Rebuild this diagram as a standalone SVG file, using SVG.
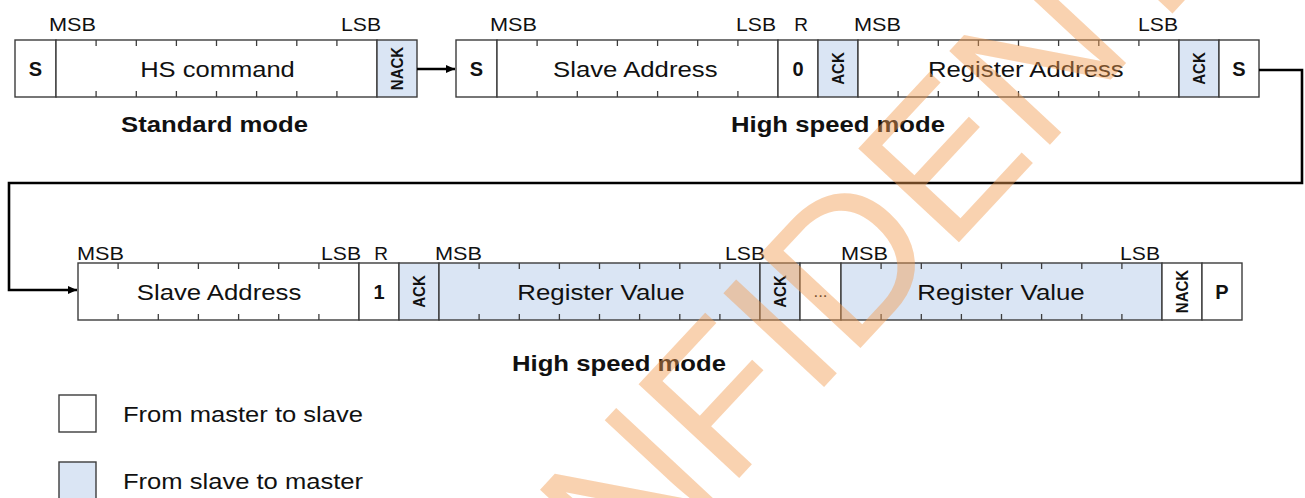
<svg xmlns="http://www.w3.org/2000/svg" width="1305" height="498" viewBox="0 0 1305 498">
<defs>
<style>
.cell{stroke:#3c3c3c;stroke-width:1.4;fill:#ffffff}
.blue{fill:#dae5f4}
.tick{stroke:#3c3c3c;stroke-width:1.3}
text{font-family:"Liberation Sans",Arial,sans-serif;fill:#111111}
.lbl{font-size:19px}
.r{font-size:19px;text-anchor:middle}
.fld{font-size:22px;text-anchor:middle}
.bit{font-size:20px;font-weight:bold;text-anchor:middle}
.vk{font-size:15px;font-weight:bold;text-anchor:middle}
.mode{font-size:22px;font-weight:bold;text-anchor:middle}
.leg{font-size:22px}
.conn{fill:none;stroke:#000000;stroke-width:2.6}
.wm{font-family:"Liberation Sans",sans-serif;font-size:200px;fill:#f29b50;fill-opacity:0.45}
</style>
<marker id="ah" markerUnits="userSpaceOnUse" markerWidth="10" markerHeight="9" refX="9" refY="4" orient="auto">
<path d="M0,0 L9,4 L0,8 z" fill="#000000"/>
</marker>
</defs>
<rect width="1305" height="498" fill="#ffffff"/>

<!-- Row 1 -->
<g id="r1-s1"><rect class="cell" x="15" y="40" width="41" height="57"/><text class="bit" x="35.5" y="76">S</text></g>
<g id="r1-hs">
<rect class="cell" x="56" y="40" width="321" height="57"/>
<path class="tick" d="M96.1,40v6M136.3,40v6M176.4,40v6M216.5,40v6M256.6,40v6M296.8,40v6M336.9,40v6M96.1,97v-6M136.3,97v-6M176.4,97v-6M216.5,97v-6M256.6,97v-6M296.8,97v-6M336.9,97v-6"/>
<text class="fld" x="217.5" y="76.5" textLength="154.6" lengthAdjust="spacingAndGlyphs">HS command</text>
<text class="lbl" x="49" y="31" textLength="47" lengthAdjust="spacingAndGlyphs">MSB</text>
<text class="lbl" x="341" y="31" textLength="40" lengthAdjust="spacingAndGlyphs">LSB</text>
</g>
<g id="r1-nack"><rect class="cell blue" x="377" y="40" width="40" height="57"/><text class="vk" transform="translate(397,68.5) scale(1.16,1) rotate(-90)" y="5.4">NACK</text></g>
<g id="r1-s2"><rect class="cell" x="456" y="40" width="41" height="57"/><text class="bit" x="476.5" y="76">S</text></g>
<g id="r1-sa">
<rect class="cell" x="497" y="40" width="281" height="57"/>
<path class="tick" d="M537.1,40v6M577.3,40v6M617.4,40v6M657.6,40v6M697.7,40v6M737.9,40v6M537.1,97v-6M577.3,97v-6M617.4,97v-6M657.6,97v-6M697.7,97v-6M737.9,97v-6"/>
<text class="fld" x="635.3" y="76.5" textLength="164.5" lengthAdjust="spacingAndGlyphs">Slave Address</text>
<text class="lbl" x="490" y="31" textLength="47" lengthAdjust="spacingAndGlyphs">MSB</text>
<text class="lbl" x="736" y="31" textLength="40" lengthAdjust="spacingAndGlyphs">LSB</text>
</g>
<g id="r1-rw"><rect class="cell" x="778" y="40" width="40" height="57"/><text class="bit" x="798" y="76">0</text><text class="r" x="801" y="31">R</text></g>
<g id="r1-ack1"><rect class="cell blue" x="818" y="40" width="40" height="57"/><text class="vk" transform="translate(838,68.5) scale(1.16,1) rotate(-90)" y="5.4">ACK</text></g>
<g id="r1-ra">
<rect class="cell" x="858" y="40" width="321" height="57"/>
<path class="tick" d="M898.1,40v6M938.3,40v6M978.4,40v6M1018.5,40v6M1058.6,40v6M1098.8,40v6M1138.9,40v6M898.1,97v-6M938.3,97v-6M978.4,97v-6M1018.5,97v-6M1058.6,97v-6M1098.8,97v-6M1138.9,97v-6"/>
<text class="fld" x="1025.8" y="76.5" textLength="195.7" lengthAdjust="spacingAndGlyphs">Register Address</text>
<text class="lbl" x="854" y="31" textLength="47" lengthAdjust="spacingAndGlyphs">MSB</text>
<text class="lbl" x="1138" y="31" textLength="40" lengthAdjust="spacingAndGlyphs">LSB</text>
</g>
<g id="r1-ack2"><rect class="cell blue" x="1179" y="40" width="40" height="57"/><text class="vk" transform="translate(1199,68.5) scale(1.16,1) rotate(-90)" y="5.4">ACK</text></g>
<g id="r1-s3"><rect class="cell" x="1219" y="40" width="40" height="57"/><text class="bit" x="1239" y="76">S</text></g>

<g id="lbl-std"><text class="mode" x="214.5" y="132" textLength="187" lengthAdjust="spacingAndGlyphs">Standard mode</text></g>
<g id="lbl-hs1"><text class="mode" x="838" y="132" textLength="214" lengthAdjust="spacingAndGlyphs">High speed mode</text></g>

<!-- Row 2 -->
<g id="r2-sa">
<rect class="cell" x="78" y="263" width="281" height="57"/>
<path class="tick" d="M118.1,263v6M158.3,263v6M198.4,263v6M238.6,263v6M278.7,263v6M318.9,263v6M118.1,320v-6M158.3,320v-6M198.4,320v-6M238.6,320v-6M278.7,320v-6M318.9,320v-6"/>
<text class="fld" x="219" y="299.5" textLength="164.5" lengthAdjust="spacingAndGlyphs">Slave Address</text>
<text class="lbl" x="77" y="259.5" textLength="47" lengthAdjust="spacingAndGlyphs">MSB</text>
<text class="lbl" x="321" y="259.5" textLength="40" lengthAdjust="spacingAndGlyphs">LSB</text>
</g>
<g id="r2-rw"><rect class="cell" x="359" y="263" width="40" height="57"/><text class="bit" x="379" y="299">1</text><text class="r" x="381" y="259.5">R</text></g>
<g id="r2-ack1"><rect class="cell blue" x="399" y="263" width="40" height="57"/><text class="vk" transform="translate(419,291.5) scale(1.16,1) rotate(-90)" y="5.4">ACK</text></g>
<g id="r2-rv1">
<rect class="cell blue" x="439" y="263" width="321" height="57"/>
<path class="tick" d="M479.1,263v6M519.3,263v6M559.4,263v6M599.5,263v6M639.6,263v6M679.8,263v6M719.9,263v6M479.1,320v-6M519.3,320v-6M559.4,320v-6M599.5,320v-6M639.6,320v-6M679.8,320v-6M719.9,320v-6"/>
<text class="fld" x="601" y="299.5" textLength="167.4" lengthAdjust="spacingAndGlyphs">Register Value</text>
<text class="lbl" x="435" y="259.5" textLength="47" lengthAdjust="spacingAndGlyphs">MSB</text>
<text class="lbl" x="725" y="259.5" textLength="40" lengthAdjust="spacingAndGlyphs">LSB</text>
</g>
<g id="r2-ack2"><rect class="cell blue" x="760" y="263" width="40" height="57"/><text class="vk" transform="translate(780,291.5) scale(1.16,1) rotate(-90)" y="5.4">ACK</text></g>
<g id="r2-dots"><rect class="cell" x="800" y="263" width="41" height="57"/><text class="r" x="820.5" y="297" style="font-size:17px">...</text></g>
<g id="r2-rv2">
<rect class="cell blue" x="841" y="263" width="321" height="57"/>
<path class="tick" d="M881.1,263v6M921.3,263v6M961.4,263v6M1001.5,263v6M1041.6,263v6M1081.8,263v6M1121.9,263v6M881.1,320v-6M921.3,320v-6M961.4,320v-6M1001.5,320v-6M1041.6,320v-6M1081.8,320v-6M1121.9,320v-6"/>
<text class="fld" x="1001" y="299.5" textLength="167.4" lengthAdjust="spacingAndGlyphs">Register Value</text>
<text class="lbl" x="841" y="259.5" textLength="47" lengthAdjust="spacingAndGlyphs">MSB</text>
<text class="lbl" x="1120" y="259.5" textLength="40" lengthAdjust="spacingAndGlyphs">LSB</text>
</g>
<g id="r2-nack"><rect class="cell" x="1162" y="263" width="40" height="57"/><text class="vk" transform="translate(1182,291.5) scale(1.16,1) rotate(-90)" y="5.4">NACK</text></g>
<g id="r2-p"><rect class="cell" x="1202" y="263" width="40" height="57"/><text class="bit" x="1222" y="299">P</text></g>

<g id="lbl-hs2"><text class="mode" x="619" y="371" textLength="214" lengthAdjust="spacingAndGlyphs">High speed mode</text></g>

<!-- Connectors -->
<g id="connectors">
<path class="conn" d="M417,69 H455" marker-end="url(#ah)"/>
<path class="conn" d="M1259,70 H1302 V183 H9 V290 H77" marker-end="url(#ah)"/>
</g>

<!-- Legend -->
<g id="legend-m2s"><rect class="cell" x="59" y="395" width="37" height="37"/><text class="leg" x="123" y="422" textLength="240" lengthAdjust="spacingAndGlyphs">From master to slave</text></g>
<g id="legend-s2m"><rect class="cell blue" x="59" y="462" width="37" height="37"/><text class="leg" x="123" y="489" textLength="240" lengthAdjust="spacingAndGlyphs">From slave to master</text></g>

<!-- Watermark -->
<g id="watermark"><text class="wm" transform="translate(425,815) rotate(-47)">CONFIDENTIAL</text></g>
</svg>
